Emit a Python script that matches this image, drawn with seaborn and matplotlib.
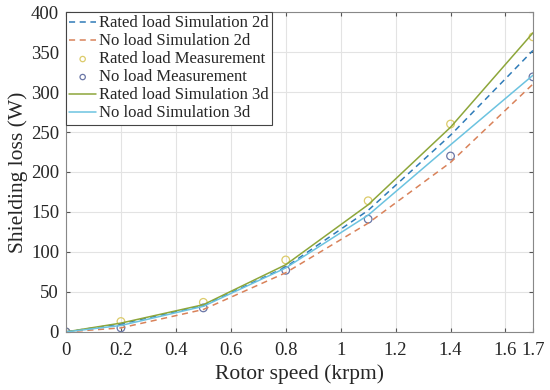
import numpy as np
import pandas as pd
import matplotlib
matplotlib.use('Agg')
import matplotlib.pyplot as plt
import seaborn as sns

# data
speed = [0, 0.2, 0.5, 0.8, 1.1, 1.4, 1.7]
rated_sim_2d = [0, 10, 33, 81, 152, 246, 352]
noload_sim_2d = [0, 5, 28, 74, 136, 212, 310]
rated_meas = [0, 13, 37, 90, 164, 260, 369]
noload_meas = [0, 5, 30, 77, 141, 220, 319]
rated_sim_3d = [0, 11, 34, 84, 159, 256, 374]
noload_sim_3d = [0, 8, 32, 80, 146, 234, 321]

sns.set_style('whitegrid')
plt.rcParams['font.family'] = ['Liberation Serif', 'DejaVu Serif']

fig = plt.figure(figsize=(5.5, 3.9), dpi=100)
ax = fig.add_axes([0.12, 0.149, 0.849, 0.82])

sns.lineplot(x=speed, y=rated_sim_2d, ax=ax, color='#2f7bb8', lw=1.1,
             linestyle=(0, (4, 3)), label='Rated load Simulation 2d')
sns.lineplot(x=speed, y=noload_sim_2d, ax=ax, color='#d9825a', lw=1.1,
             linestyle=(0, (4, 3)), label='No load Simulation 2d')
sns.scatterplot(x=speed, y=rated_meas, ax=ax, marker='o', s=30,
                facecolor='none', edgecolor='#dccb6a', linewidth=0.9,
                label='Rated load Measurement')
sns.scatterplot(x=speed, y=noload_meas, ax=ax, marker='o', s=30,
                facecolor='none', edgecolor='#6a76a6', linewidth=0.9,
                label='No load Measurement')
sns.lineplot(x=speed, y=rated_sim_3d, ax=ax, color='#8da63a', lw=1.1,
             label='Rated load Simulation 3d')
sns.lineplot(x=speed, y=noload_sim_3d, ax=ax, color='#6cc3e0', lw=1.1,
             label='No load Simulation 3d')

ax.set_xlim(0, 1.7)
ax.set_ylim(0, 400)
ax.set_xticks([0, 0.2, 0.4, 0.6, 0.8, 1, 1.2, 1.4, 1.6, 1.7])
ax.set_xticklabels(['0', '0.2', '0.4', '0.6', '0.8', '1', '1.2', '1.4', '1.6', '1.7'])
ax.set_yticks(range(0, 401, 50))
ax.tick_params(labelsize=13.5, direction='in', length=3, color='#555555',
               top=True, right=True, bottom=True, left=True)
ax.tick_params(axis='x', pad=7)
ax.tick_params(axis='y', pad=5)
ax.grid(color='#e3e3e3', lw=0.8)
for s in ax.spines.values():
    s.set_color('#888888')
    s.set_linewidth(0.8)

ax.set_xlabel('Rotor speed (krpm)', fontsize=15.5, labelpad=4)
ax.set_ylabel('Shielding loss (W)', fontsize=15.5, labelpad=2)

leg = ax.legend(loc='upper left', fontsize=12, frameon=True, fancybox=False,
                borderaxespad=0, handlelength=1.6, handletextpad=0.2,
                borderpad=0.2, labelspacing=0.12, framealpha=1,
                markerscale=0.7)
leg.get_frame().set_edgecolor('#444444')
leg.get_frame().set_linewidth(0.8)

fig.savefig('out.png', dpi=100)
